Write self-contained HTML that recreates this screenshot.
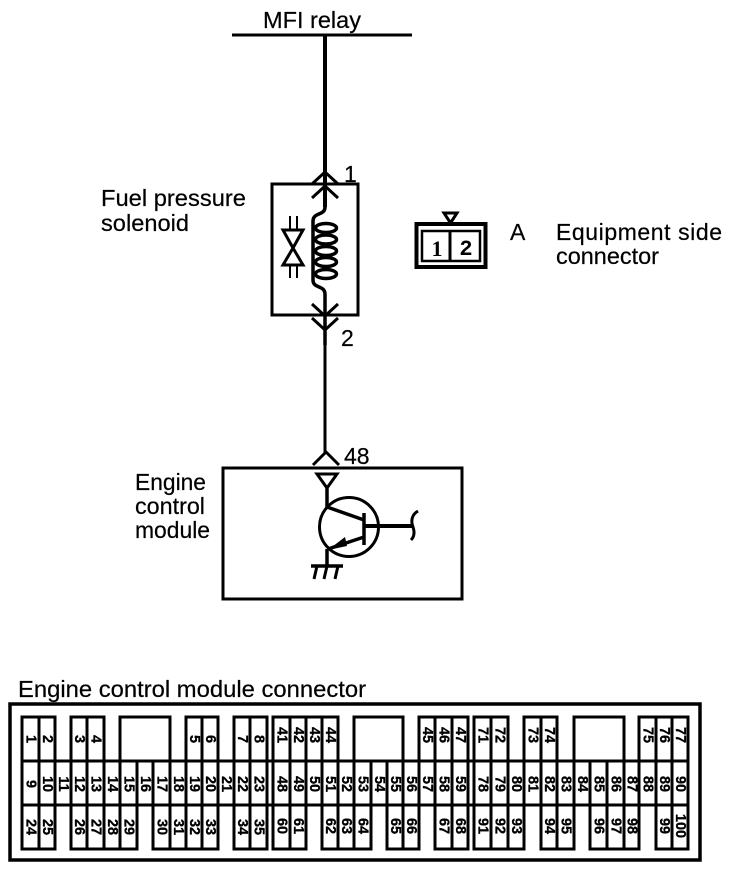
<!DOCTYPE html>
<html>
<head>
<meta charset="utf-8">
<title>Fuel pressure solenoid circuit</title>
<style>
html,body{margin:0;padding:0;background:#fff;width:752px;height:890px;overflow:hidden}
svg{display:block}
text{font-family:"Liberation Sans",sans-serif;fill:#000}
.l{font-size:23px;stroke:#000;stroke-width:.2px}
.n{font-size:14.500px;font-weight:bold;text-anchor:middle;dominant-baseline:central;stroke:#000;stroke-width:.3px}
.s{fill:none;stroke:#000}
</style>
</head>
<body>
<svg width="752" height="890" viewBox="0 0 752 890" xmlns="http://www.w3.org/2000/svg">
<rect width="752" height="890" fill="#fff"/>

<!-- main wiring -->
<path class="s" stroke-width="3" d="M232 35H412"/>
<path class="s" stroke-width="4" d="M325 35V207"/>
<path class="s" stroke-width="3.500" d="M325 207C325 216 313 212 313 221V280C313 289 325 285 325 294V345"/>
<path class="s" stroke-width="3" d="M325 345V452"/>
<rect class="s" stroke-width="3" x="272" y="184" width="86" height="131"/>
<path class="s" stroke-width="3" d="M312 184L325 172L338 184M312 198L325 186L338 198M312 304L325 316L338 304M312 318L325 330L338 318"/>

<!-- coil -->
<g class="s" stroke-width="3.500">
<ellipse cx="326" cy="228" rx="10.500" ry="4.500"/>
<ellipse cx="326" cy="239.500" rx="10.500" ry="4.500"/>
<ellipse cx="326" cy="251" rx="10.500" ry="4.500"/>
<ellipse cx="326" cy="262" rx="10.500" ry="4.500"/>
<ellipse cx="326" cy="274" rx="10.500" ry="4.500"/>
</g>

<!-- diode -->
<path class="s" stroke-width="3" d="M283 230H303L293 248L303 265H283L293 248Z"/>
<path class="s" stroke-width="2" d="M290 216V230M297 216V230M290 265V278M297 265V278"/>

<!-- connector A -->
<rect class="s" stroke-width="4" x="416.500" y="224" width="69" height="43"/>
<rect class="s" stroke-width="2.500" x="422" y="231" width="58" height="30"/>
<path class="s" stroke-width="3" d="M450 230V262"/>
<path class="s" stroke-width="3" d="M444 213H457L450.500 223Z"/>
<text x="437" y="256" font-size="22" font-weight="bold" text-anchor="middle" style="font-family:'Liberation Serif',serif">1</text>
<text x="466" y="255" font-size="22" font-weight="bold" text-anchor="middle" style="font-family:'Liberation Mono',monospace">2</text>

<!-- ECM -->
<path class="s" stroke-width="3" d="M313 465L326 452L339 465"/>
<rect class="s" stroke-width="3" x="223" y="468" width="239" height="131"/>
<path class="s" stroke-width="3" d="M317 474H337L327 488Z"/>
<path class="s" stroke-width="3.500" d="M327 488V508"/>
<circle class="s" stroke-width="3" cx="349" cy="527" r="29.500"/>
<path class="s" stroke-width="3.500" d="M327 507L364 520M364 537L328 549M364 513V545M327 549V566"/>
<path d="M328 550L345 537L347 546Z" fill="#000"/>
<path class="s" stroke-width="4" d="M364 526H412"/>
<path class="s" stroke-width="3" d="M418 511C411 515 411 522 413 527C415 533 414 537 411 540"/>
<path class="s" stroke-width="3.500" d="M311 566H343"/>
<path class="s" stroke-width="3" d="M317 566L314 579M327 566L324 579M338 566L335 579"/>

<!-- labels -->
<text class="l" x="263" y="28" textLength="98" lengthAdjust="spacingAndGlyphs">MFI relay</text>
<text class="l" x="101" y="206" textLength="145" lengthAdjust="spacingAndGlyphs">Fuel pressure</text>
<text class="l" x="101" y="231" textLength="88" lengthAdjust="spacingAndGlyphs">solenoid</text>
<text class="l" x="344" y="182">1</text>
<text class="l" x="341" y="346">2</text>
<text class="l" x="344" y="464">48</text>
<text class="l" x="510" y="240">A</text>
<text class="l" x="556" y="240" textLength="166">Equipment side</text>
<text class="l" x="556" y="264" textLength="103" lengthAdjust="spacingAndGlyphs">connector</text>
<text class="l" x="135" y="490" textLength="71" lengthAdjust="spacingAndGlyphs">Engine</text>
<text class="l" x="135" y="514" textLength="70" lengthAdjust="spacingAndGlyphs">control</text>
<text class="l" x="135" y="538" textLength="75" lengthAdjust="spacingAndGlyphs">module</text>
<text class="l" x="18" y="697" textLength="348" lengthAdjust="spacingAndGlyphs">Engine control module connector</text>

<!-- connector body -->
<rect class="s" stroke-width="3.500" x="10" y="704" width="690" height="156"/>
<g class="s" stroke-width="3">
<!-- horizontal rails -->
<path d="M22 761H688M22 805H688"/>
<!-- top row -->
<path d="M22 761V717H55V761M39 717V761"/>
<path d="M71 761V717H104V761M87 717V761"/>
<path d="M120 761V717H170V761"/>
<path d="M186 761V717H218V761M202 717V761"/>
<path d="M234 761V717H267V761M250 717V761"/>
<path d="M273 761V717H338V761M290 717V761M306 717V761M322 717V761"/>
<path d="M354 761V717H403V761"/>
<path d="M419 761V717H468V761M435 717V761M452 717V761"/>
<path d="M474 761V717H508V761M491 717V761"/>
<path d="M524 761V717H557V761M541 717V761"/>
<path d="M574 761V717H624V761"/>
<path d="M639 761V717H688V761M656 717V761M672 717V761"/>
<!-- middle row -->
<path d="M22 761V805M39 761V805M55 761V805M71 761V805M87 761V805M104 761V805M120 761V805M137 761V805M153 761V805M170 761V805M186 761V805M202 761V805M218 761V805M234 761V805M250 761V805M267 761V805"/>
<path d="M273 761V805M290 761V805M306 761V805M322 761V805M338 761V805M354 761V805M371 761V805M387 761V805M403 761V805M419 761V805M435 761V805M452 761V805M468 761V805"/>
<path d="M474 761V805M491 761V805M508 761V805M524 761V805M541 761V805M557 761V805M574 761V805M590 761V805M607 761V805M624 761V805M639 761V805M656 761V805M672 761V805M688 761V805"/>
<!-- bottom row -->
<path d="M22 805V849H55V805M39 805V849"/>
<path d="M71 805V849H137V805M87 805V849M104 805V849M120 805V849"/>
<path d="M153 805V849H218V805M170 805V849M186 805V849M202 805V849"/>
<path d="M234 805V849H267V805M250 805V849"/>
<path d="M273 805V849H306V805M290 805V849"/>
<path d="M322 805V849H371V805M338 805V849M354 805V849"/>
<path d="M387 805V849H419V805M403 805V849"/>
<path d="M435 805V849H468V805M452 805V849"/>
<path d="M474 805V849H524V805M491 805V849M508 805V849"/>
<path d="M541 805V849H574V805M557 805V849"/>
<path d="M590 805V849H639V805M607 805V849M624 805V849"/>
<path d="M656 805V849H688V805M672 805V849"/>
</g>

<!-- pin numbers: top row -->
<text class="n" transform="translate(30.500 739) rotate(90)">1</text>
<text class="n" transform="translate(47 739) rotate(90)">2</text>
<text class="n" transform="translate(79 739) rotate(90)">3</text>
<text class="n" transform="translate(95.500 739) rotate(90)">4</text>
<text class="n" transform="translate(194 739) rotate(90)">5</text>
<text class="n" transform="translate(210 739) rotate(90)">6</text>
<text class="n" transform="translate(242 739) rotate(90)">7</text>
<text class="n" transform="translate(258.500 739) rotate(90)">8</text>
<text class="n" transform="translate(281.500 735) rotate(90)">41</text>
<text class="n" transform="translate(298 735) rotate(90)">42</text>
<text class="n" transform="translate(314 735) rotate(90)">43</text>
<text class="n" transform="translate(330 735) rotate(90)">44</text>
<text class="n" transform="translate(427 735) rotate(90)">45</text>
<text class="n" transform="translate(443.500 735) rotate(90)">46</text>
<text class="n" transform="translate(460 735) rotate(90)">47</text>
<text class="n" transform="translate(482.500 735) rotate(90)">71</text>
<text class="n" transform="translate(499.500 735) rotate(90)">72</text>
<text class="n" transform="translate(532.500 735) rotate(90)">73</text>
<text class="n" transform="translate(549 735) rotate(90)">74</text>
<text class="n" transform="translate(647.500 735) rotate(90)">75</text>
<text class="n" transform="translate(664 735) rotate(90)">76</text>
<text class="n" transform="translate(680 735) rotate(90)">77</text>

<!-- pin numbers: middle row -->
<text class="n" transform="translate(30.500 784) rotate(90)">9</text>
<text class="n" transform="translate(47 784) rotate(90)">10</text>
<text class="n" transform="translate(63 784) rotate(90)">11</text>
<text class="n" transform="translate(79 784) rotate(90)">12</text>
<text class="n" transform="translate(95.500 784) rotate(90)">13</text>
<text class="n" transform="translate(112 784) rotate(90)">14</text>
<text class="n" transform="translate(128.500 784) rotate(90)">15</text>
<text class="n" transform="translate(145 784) rotate(90)">16</text>
<text class="n" transform="translate(161.500 784) rotate(90)">17</text>
<text class="n" transform="translate(178 784) rotate(90)">18</text>
<text class="n" transform="translate(194 784) rotate(90)">19</text>
<text class="n" transform="translate(210 784) rotate(90)">20</text>
<text class="n" transform="translate(226 784) rotate(90)">21</text>
<text class="n" transform="translate(242 784) rotate(90)">22</text>
<text class="n" transform="translate(258.500 784) rotate(90)">23</text>
<text class="n" transform="translate(281.500 784) rotate(90)">48</text>
<text class="n" transform="translate(298 784) rotate(90)">49</text>
<text class="n" transform="translate(314 784) rotate(90)">50</text>
<text class="n" transform="translate(330 784) rotate(90)">51</text>
<text class="n" transform="translate(346 784) rotate(90)">52</text>
<text class="n" transform="translate(362.500 784) rotate(90)">53</text>
<text class="n" transform="translate(379 784) rotate(90)">54</text>
<text class="n" transform="translate(395 784) rotate(90)">55</text>
<text class="n" transform="translate(411 784) rotate(90)">56</text>
<text class="n" transform="translate(427 784) rotate(90)">57</text>
<text class="n" transform="translate(443.500 784) rotate(90)">58</text>
<text class="n" transform="translate(460 784) rotate(90)">59</text>
<text class="n" transform="translate(482.500 784) rotate(90)">78</text>
<text class="n" transform="translate(499.500 784) rotate(90)">79</text>
<text class="n" transform="translate(516 784) rotate(90)">80</text>
<text class="n" transform="translate(532.500 784) rotate(90)">81</text>
<text class="n" transform="translate(549 784) rotate(90)">82</text>
<text class="n" transform="translate(565.500 784) rotate(90)">83</text>
<text class="n" transform="translate(582 784) rotate(90)">84</text>
<text class="n" transform="translate(598.500 784) rotate(90)">85</text>
<text class="n" transform="translate(615.500 784) rotate(90)">86</text>
<text class="n" transform="translate(631.500 784) rotate(90)">87</text>
<text class="n" transform="translate(647.500 784) rotate(90)">88</text>
<text class="n" transform="translate(664 784) rotate(90)">89</text>
<text class="n" transform="translate(680 784) rotate(90)">90</text>

<!-- pin numbers: bottom row -->
<text class="n" transform="translate(30.500 827) rotate(90)">24</text>
<text class="n" transform="translate(47 827) rotate(90)">25</text>
<text class="n" transform="translate(79 827) rotate(90)">26</text>
<text class="n" transform="translate(95.500 827) rotate(90)">27</text>
<text class="n" transform="translate(112 827) rotate(90)">28</text>
<text class="n" transform="translate(128.500 827) rotate(90)">29</text>
<text class="n" transform="translate(161.500 827) rotate(90)">30</text>
<text class="n" transform="translate(178 827) rotate(90)">31</text>
<text class="n" transform="translate(194 827) rotate(90)">32</text>
<text class="n" transform="translate(210 827) rotate(90)">33</text>
<text class="n" transform="translate(242 827) rotate(90)">34</text>
<text class="n" transform="translate(258.500 827) rotate(90)">35</text>
<text class="n" transform="translate(281.500 826) rotate(90)">60</text>
<text class="n" transform="translate(298 826) rotate(90)">61</text>
<text class="n" transform="translate(330 826) rotate(90)">62</text>
<text class="n" transform="translate(346 826) rotate(90)">63</text>
<text class="n" transform="translate(362.500 826) rotate(90)">64</text>
<text class="n" transform="translate(395 826) rotate(90)">65</text>
<text class="n" transform="translate(411 826) rotate(90)">66</text>
<text class="n" transform="translate(443.500 826) rotate(90)">67</text>
<text class="n" transform="translate(460 826) rotate(90)">68</text>
<text class="n" transform="translate(482.500 826) rotate(90)">91</text>
<text class="n" transform="translate(499.500 826) rotate(90)">92</text>
<text class="n" transform="translate(516 826) rotate(90)">93</text>
<text class="n" transform="translate(549 826) rotate(90)">94</text>
<text class="n" transform="translate(565.500 826) rotate(90)">95</text>
<text class="n" transform="translate(598.500 826) rotate(90)">96</text>
<text class="n" transform="translate(615.500 826) rotate(90)">97</text>
<text class="n" transform="translate(631.500 826) rotate(90)">98</text>
<text class="n" transform="translate(664 826) rotate(90)">99</text>
<text class="n" transform="translate(680 826) rotate(90)">100</text>
</svg>
</body>
</html>
